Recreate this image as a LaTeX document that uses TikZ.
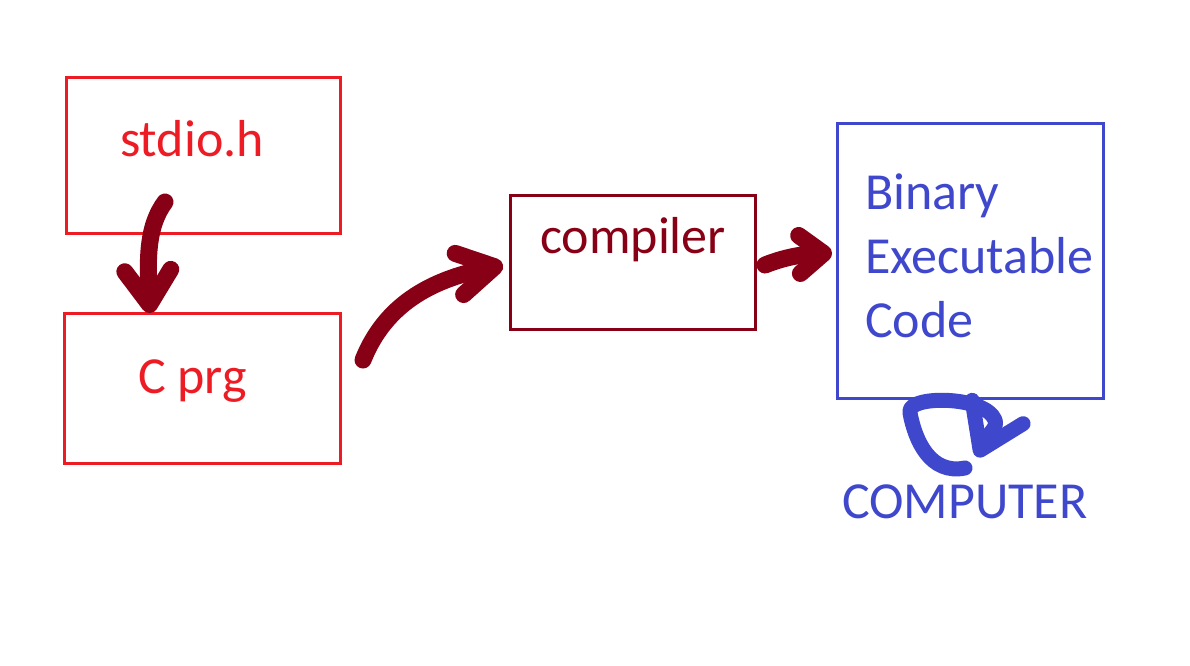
\documentclass[tikz,border=0pt]{standalone}
\usepackage{fontspec}
\setmainfont{Carlito}
\usepackage{tikz}
\usetikzlibrary{arrows.meta, calc}
\definecolor{paintred}{HTML}{ED1C24}
\definecolor{paintmaroon}{HTML}{880015}
\definecolor{paintblue}{HTML}{3F48CC}
\tikzstyle{filebox} = [rectangle, draw=paintred, line width=3pt, inner sep=0pt]
\tikzstyle{toolbox} = [rectangle, draw=paintmaroon, line width=3pt, inner sep=0pt]
\tikzstyle{outbox} = [rectangle, draw=paintblue, line width=3pt, inner sep=0pt]
\tikzstyle{label} = [inner sep=0pt, anchor=base west, font=\fontsize{52}{64}\selectfont]
\tikzstyle{brush} = [line width=17pt, line cap=round, line join=round]

\begin{document}
\begin{tikzpicture}[x=1pt, y=-1pt]

  \useasboundingbox[fill=white] (0, 0) rectangle (1190, 665);

  % Boxes
  \node[filebox, minimum width=274pt, minimum height=156pt] (stdio) at (203, 155) {};
  \node[filebox, minimum width=276pt, minimum height=150pt] (cprg) at (202, 388) {};
  \node[toolbox, minimum width=245pt, minimum height=134pt] (compiler) at (632.5, 262) {};
  \node[outbox, minimum width=266pt, minimum height=275pt] (binary) at (970, 260.5) {};

  % Texts
  \node[label, text=paintred] (stdiotext) at (120, 156) {stdio.h};
  \node[label, text=paintred] (cprgtext) at (138, 393) {C prg};
  \node[label, text=paintmaroon] (compilertext) at (540, 253) {compiler};
  \node[label, text=paintblue, align=left] (binarytext) at (865, 337) {Binary\\Executable\\Code};
  \node[label, text=paintblue] (computer) at (842, 518) {COMPUTER};

  % Brush ends
  \coordinate (hstart) at (165, 202);
  \coordinate (hend) at (150, 313);
  \coordinate (cstart) at (363, 360);
  \coordinate (cend) at (503, 265);
  \coordinate (bstart) at (765, 265);
  \coordinate (bend) at (832, 253);
  \coordinate (rstart) at (965, 468);
  \coordinate (rend) at (977, 457);

  % Hand-drawn arrows
  \draw[brush, paintmaroon, -{Straight Barb[round, length=34pt, width=46pt]}]
    (hstart) .. controls (148, 225) and (147, 255) .. (hend);
  \draw[brush, paintmaroon, -{Straight Barb[round, length=36pt, width=42pt]}]
    (cstart) .. controls (385, 305) and (430, 280) .. (cend);
  \draw[brush, paintmaroon, -{Straight Barb[round, length=24pt, width=38pt]}]
    (bstart) .. controls (790, 255) and (810, 254) .. (bend);
  \draw[brush, line width=15pt, paintblue, -{Straight Barb[round, length=42pt, width=56pt]}]
    (rstart) .. controls (930, 475) and (915, 440) .. (910, 413)
    .. controls (905, 395) and (985, 395) .. (995, 420)
    .. controls (998, 428) and (988, 433) .. (rend);

\end{tikzpicture}
\end{document}
